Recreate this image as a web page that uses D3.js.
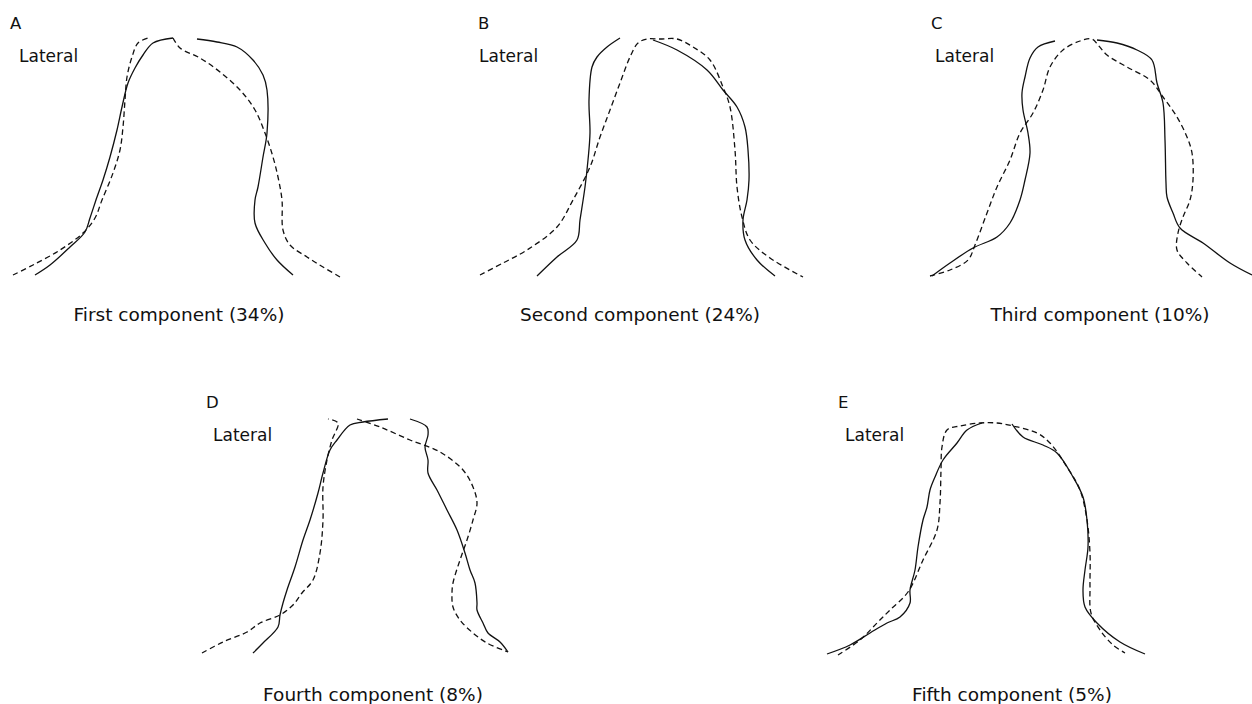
<!DOCTYPE html>
<html>
<head>
<meta charset="utf-8">
<script src="https://cdn.jsdelivr.net/npm/d3@7"></script>
<style>
  body { margin: 0; background: #fff; }
  text { font-family: "DejaVu Sans", "Liberation Sans", sans-serif; fill: #111; }
</style>
</head>
<body>
<script>
// outline points per panel: [lateral position, height above base], null = gap in trace
const letters = ["A", "B", "C", "D", "E"];
const captions = [
    "First component (34%)",
    "Second component (24%)",
    "Third component (10%)",
    "Fourth component (8%)",
    "Fifth component (5%)"
];

const aSolid = [[35,5],[50,15],[70,33],[85,48],[90,62],[97,83],[103,100],[110,123],[117,150],[122,173],[128,197],[135,212],[143,225],[153,237],[173,242],
    null,[197,241],[217,238],[237,233],[253,220],[263,205],[267,190],[267,147],[263,123],[258,93],[255,80],[255,57],[265,37],[277,20],[293,5]];
const aDashed = [[13,5],[33,15],[60,30],[83,47],[95,62],[102,80],[113,107],[120,130],[123,153],[125,180],[127,203],[132,223],[138,237],[148,242],
    null,[173,242],[180,232],[200,222],[220,208],[240,190],[255,170],[265,147],[273,123],[278,103],[282,80],[283,50],[290,35],[307,23],[323,13],[340,3]];

const bSolid = [[77,4],[97,23],[117,40],[120,60],[125,93],[128,120],[130,147],[129,180],[132,213],[137,223],[147,233],[160,242],
    null,[193,240],[217,230],[247,210],[263,190],[277,173],[285,153],[288,130],[289,100],[287,80],[283,60],[285,40],[297,20],[315,4]];
const bDashed = [[20,5],[43,17],[67,30],[97,53],[113,80],[130,113],[140,143],[150,170],[160,197],[170,223],[178,237],[187,241],[200,241],[217,241],
    [233,233],[250,220],[263,193],[270,173],[275,130],[277,93],[282,63],[290,40],[310,22],[343,3]];

const cSolid = [[22,4],[40,17],[63,32],[87,43],[100,57],[110,80],[115,100],[120,127],[118,147],[113,170],[112,187],[115,203],[120,222],[128,233],[145,239],
    null,[187,240],[207,237],[227,230],[242,220],[247,197],[253,177],[255,140],[256,97],[257,83],[263,67],[270,52],[293,37],[320,17],[342,5]];
const cDashed = [[20,4],[40,10],[58,20],[65,35],[77,67],[87,93],[100,120],[110,147],[123,167],[133,190],[140,213],[153,230],[170,239],[182,241],
    [188,235],[197,225],[217,213],[240,200],[253,183],[267,163],[277,143],[282,127],[283,100],[280,80],[273,63],[268,47],[267,30],[277,17],[292,3]];

const dSolid = [[73,5],[83,15],[98,31],[100,43],[103,55],[107,68],[115,91],[123,118],[130,138],[138,165],[143,185],[150,208],[157,218],[170,233],[183,236],[208,239],
    null,[230,239],[247,231],[248,223],[245,211],[248,198],[248,185],[257,168],[267,148],[277,128],[285,105],[290,88],[295,75],[297,55],[297,48],[303,35],[308,25],[320,16],[328,6]];
const dDashed = [[22,5],[43,16],[67,26],[80,35],[100,43],[113,53],[122,65],[133,78],[140,105],[143,138],[143,171],[147,198],[152,218],[158,235],[148,239],
    null,[177,239],[200,231],[230,218],[260,206],[283,188],[293,171],[297,155],[293,138],[287,118],[280,98],[273,75],[272,65],[273,51],[280,38],[293,25],[307,15],[328,6]];

const eSolid = [[17,4],[40,13],[60,25],[77,35],[90,41],[100,55],[100,68],[105,88],[108,111],[113,138],[117,151],[120,168],[125,181],[133,198],[147,215],[157,228],[172,235],
    null,[202,234],[213,221],[233,213],[247,205],[263,181],[273,161],[277,138],[278,111],[275,88],[273,68],[275,51],[287,35],[310,16],[335,4]];
const eDashed = [[28,3],[50,18],[67,35],[80,48],[98,66],[113,98],[127,128],[130,155],[131,188],[132,211],[137,228],[150,232],[170,235],[187,235],[203,232],
    [227,225],[240,215],[257,191],[270,168],[277,138],[280,105],[280,71],[281,45],[290,28],[303,13],[315,5]];

const solids = [aSolid, bSolid, cSolid, dSolid, eSolid];
const dashes = [aDashed, bDashed, cDashed, dDashed, eDashed];

// layout
const frames = [
    {left: 0,   bottom: 280, letterX: 10,  latX: 19,  top: 29,  capX: 179,  capY: 321},
    {left: 460, bottom: 280, letterX: 478, latX: 479, top: 29,  capX: 640,  capY: 321},
    {left: 910, bottom: 280, letterX: 931, latX: 935, top: 29,  capX: 1100, capY: 321},
    {left: 180, bottom: 658, letterX: 206, latX: 213, top: 408, capX: 373,  capY: 701},
    {left: 810, bottom: 658, letterX: 838, latX: 845, top: 408, capX: 1012, capY: 701}
];

const svg = d3.select("body").append("svg")
    .attr("width", 1252)
    .attr("height", 704);

frames.forEach((f, i) => {
    const x = d3.scaleLinear().domain([0, 350]).range([f.left, f.left + 350]);
    const y = d3.scaleLinear().domain([0, 250]).range([f.bottom, f.bottom - 250]);

    const line = d3.line()
        .defined(d => d !== null)
        .x(d => x(d[0]))
        .y(d => y(d[1]))
        .curve(d3.curveCatmullRom.alpha(0.5));

    const g = svg.append("g");

    g.append("path")
        .attr("d", line(solids[i]))
        .attr("fill", "none")
        .attr("stroke", "#111")
        .attr("stroke-width", 1.3);

    g.append("path")
        .attr("d", line(dashes[i]))
        .attr("fill", "none")
        .attr("stroke", "#111")
        .attr("stroke-width", 1.3)
        .attr("stroke-dasharray", "5.5,3.5");

    g.append("text")
        .attr("x", f.letterX)
        .attr("y", f.top)
        .style("font-size", "16.5px")
        .text(letters[i]);

    g.append("text")
        .attr("x", f.latX)
        .attr("y", f.top + 33)
        .style("font-size", "17px")
        .text("Lateral");

    g.append("text")
        .attr("x", f.capX)
        .attr("y", f.capY)
        .attr("text-anchor", "middle")
        .style("font-size", "18.5px")
        .text(captions[i]);
});
</script>
</body>
</html>
